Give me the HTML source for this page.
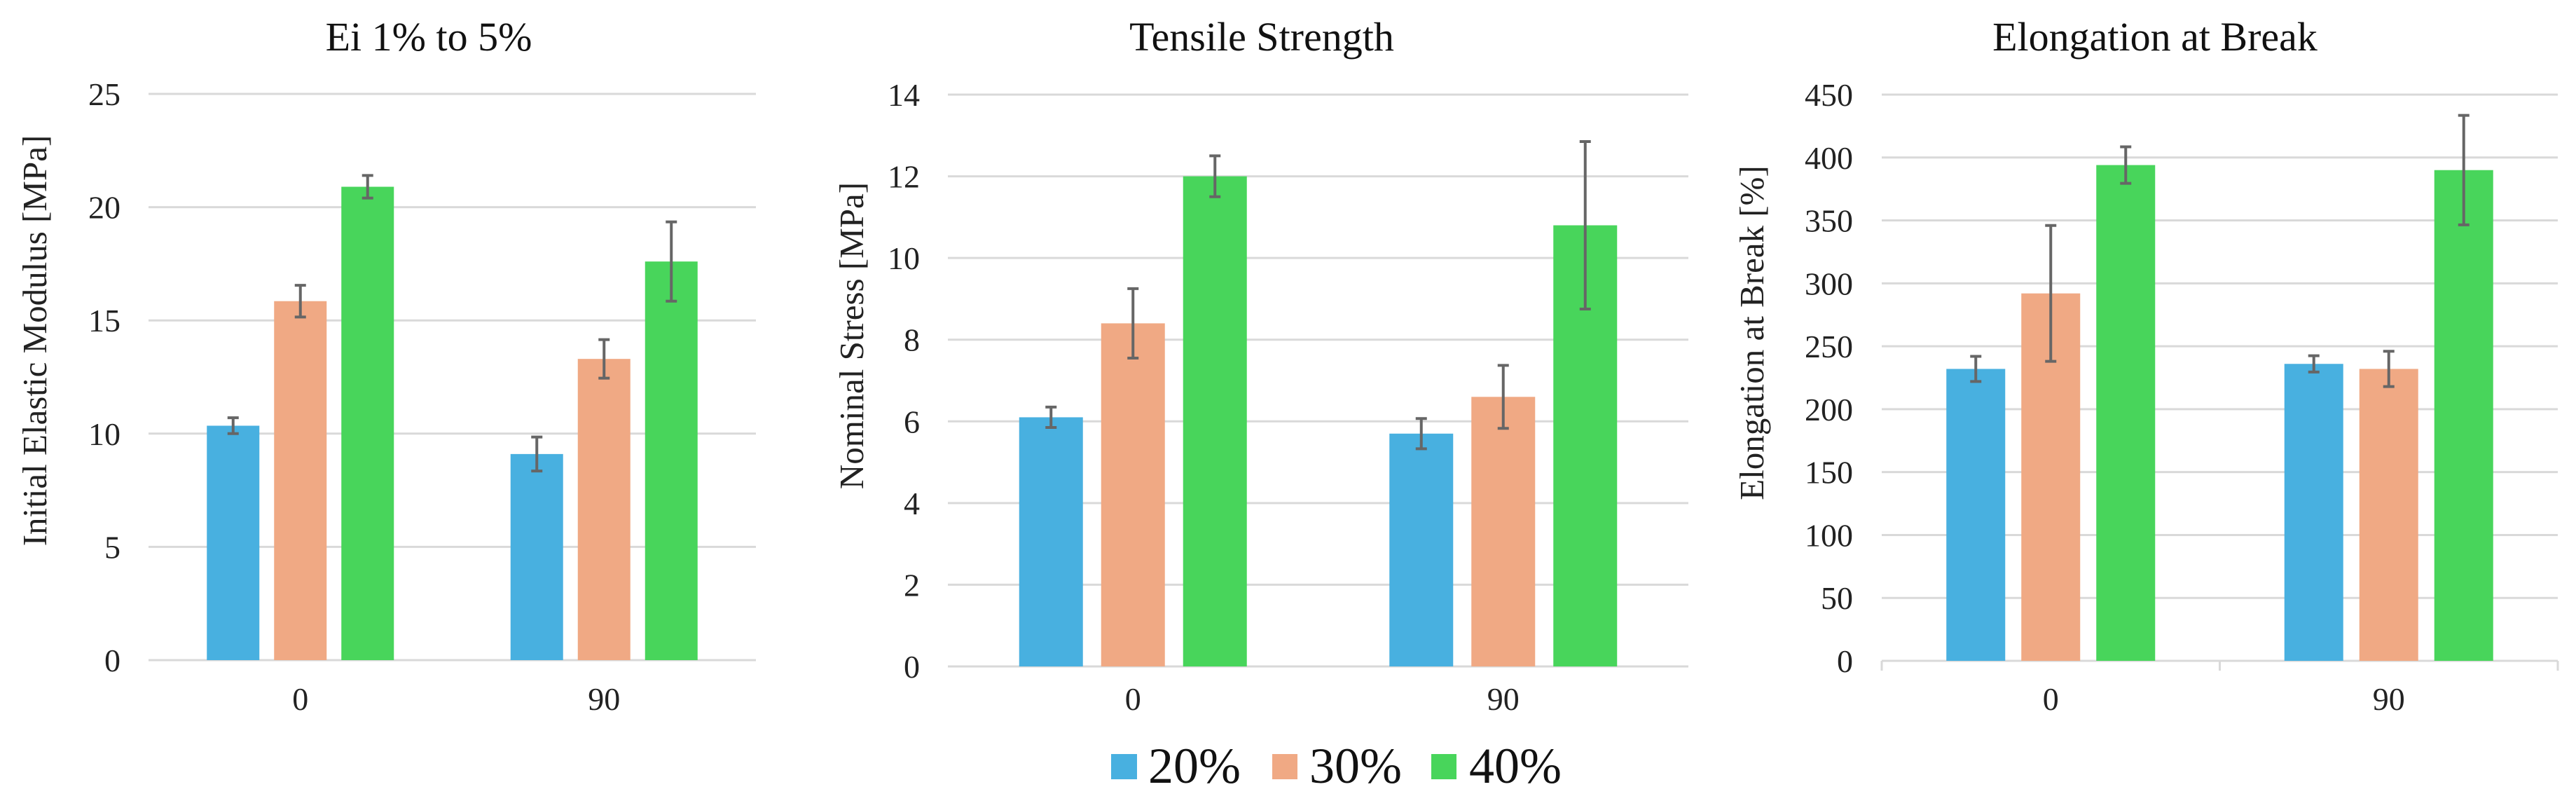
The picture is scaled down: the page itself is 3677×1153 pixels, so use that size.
<!DOCTYPE html>
<html><head><meta charset="utf-8"><style>
html,body{margin:0;padding:0;background:#fff;}
svg{display:block;font-family:"Liberation Serif",serif;}
</style></head><body>
<svg id="svg" width="3677" height="1153" viewBox="0 0 3677 1153" xmlns="http://www.w3.org/2000/svg">
<g id="legend">
  <rect x="1586" y="1076" width="37" height="36" fill="#48B0E0"/>
  <text x="1639" y="1117" font-size="72" fill="#111">20%</text>
  <rect x="1816" y="1076" width="36" height="36" fill="#F0A984"/>
  <text x="1869" y="1117" font-size="72" fill="#111">30%</text>
  <rect x="2043" y="1076" width="36" height="36" fill="#48D55B"/>
  <text x="2097" y="1117" font-size="72" fill="#111">40%</text>
</g>
</svg>
<script>
const categories = ["0", "90"];
const seriesNames = ["20%", "30%", "40%"];
const colors = ["#48B0E0", "#F0A984", "#48D55B"];

const c1Values20 = [10.35, 9.1];
const c1Values30 = [15.85, 13.3];
const c1Values40 = [20.9, 17.6];
const c1Err20 = [0.35, 0.75];
const c1Err30 = [0.7, 0.85];
const c1Err40 = [0.5, 1.75];
const c1Ticks = [0, 5, 10, 15, 20, 25];

const c2Values20 = [6.1, 5.7];
const c2Values30 = [8.4, 6.6];
const c2Values40 = [12.0, 10.8];
const c2Err20 = [0.25, 0.37];
const c2Err30 = [0.85, 0.77];
const c2Err40 = [0.5, 2.05];
const c2Ticks = [0, 2, 4, 6, 8, 10, 12, 14];

const c3Values20 = [232, 236];
const c3Values30 = [292, 232];
const c3Values40 = [394, 390];
const c3Err20 = [10, 6.5];
const c3Err30 = [54, 14];
const c3Err40 = [14.5, 43.5];
const c3Ticks = [0, 50, 100, 150, 200, 250, 300, 350, 400, 450];

const NS = "http://www.w3.org/2000/svg";
const svg = document.getElementById("svg");
function mk(tag, attrs, parent) {
  const e = document.createElementNS(NS, tag);
  for (const k in attrs) e.setAttribute(k, attrs[k]);
  parent.appendChild(e);
  return e;
}

function drawChart(cfg) {
  const g = mk("g", {}, svg);
  
  
  const max = cfg.ticks[cfg.ticks.length - 1];
  const y = v => cfg.y0 - (v / max) * (cfg.y0 - cfg.yTop);
  const catW = (cfg.x1 - cfg.x0) / categories.length;
  const xc = i => cfg.x0 + catW * (i + 0.5);

  const title = mk("text", {x: cfg.titleX, y: 72, "font-size": 58, "text-anchor": "middle", fill: "#111"}, g);
  title.textContent = cfg.title;
  
  

  cfg.ticks.forEach(t => {
    const ln = mk("line", {x1: cfg.x0, x2: cfg.x1, y1: y(t), y2: y(t), stroke: "#d9d9d9", "stroke-width": 3}, g);
    
    
    const tx = mk("text", {x: cfg.tickX, y: y(t) + 16, "font-size": 46, "text-anchor": "end", fill: "#222"}, g);
    tx.textContent = t;
    
    
  });

  if (cfg.xTicks) {
    for (let i = 0; i <= categories.length; i++) {
      const tk = mk("line", {x1: cfg.x0 + catW * i, x2: cfg.x0 + catW * i, y1: y(0), y2: y(0) + 14, stroke: "#d9d9d9", "stroke-width": 3}, g);
      
      
    }
  }

  const yt = mk("text", {transform: `translate(${cfg.yTitleX},${cfg.yTitleY}) rotate(-90)`, "font-size": 49, "text-anchor": "middle", fill: "#222"}, g);
  yt.textContent = cfg.yTitle;
  
  

  const vals = [cfg.v20, cfg.v30, cfg.v40];
  const errs = [cfg.e20, cfg.e30, cfg.e40];
  const groupW = 3 * cfg.barW + 2 * cfg.gap;
  categories.forEach((c, i) => {
    const lab = mk("text", {x: xc(i), y: 1013, "font-size": 46, "text-anchor": "middle", fill: "#222"}, g);
    lab.textContent = c;
    
    
    for (let s = 0; s < 3; s++) {
      const bx = xc(i) - groupW / 2 + s * (cfg.barW + cfg.gap);
      const v = vals[s][i];
      const r = mk("rect", {x: bx, y: y(v), width: cfg.barW, height: y(0) - y(v), fill: colors[s]}, g);
      
      
      const cx = bx + cfg.barW / 2;
      const e = errs[s][i];
      const eg = mk("g", {stroke: "#666", "stroke-width": 4}, g);
      
      
      mk("line", {x1: cx, x2: cx, y1: y(v + e), y2: y(v - e)}, eg);
      mk("line", {x1: cx - 8, x2: cx + 8, y1: y(v + e), y2: y(v + e)}, eg);
      mk("line", {x1: cx - 8, x2: cx + 8, y1: y(v - e), y2: y(v - e)}, eg);
    }
  });
}

drawChart({name: "chart-elastic-modulus", title: "Ei 1% to 5%", titleX: 612, yTitle: "Initial Elastic Modulus  [MPa]",
  x0: 212, x1: 1079, y0: 942, yTop: 134, tickX: 172, yTitleX: 66, yTitleY: 486, barW: 75, gap: 21,
  ticks: c1Ticks, v20: c1Values20, v30: c1Values30, v40: c1Values40, e20: c1Err20, e30: c1Err30, e40: c1Err40});
drawChart({name: "chart-tensile-strength", title: "Tensile Strength", titleX: 1801, yTitle: "Nominal Stress [MPa]",
  x0: 1353, x1: 2410, y0: 951, yTop: 135, tickX: 1313, yTitleX: 1232, yTitleY: 479, barW: 91, gap: 26,
  ticks: c2Ticks, v20: c2Values20, v30: c2Values30, v40: c2Values40, e20: c2Err20, e30: c2Err30, e40: c2Err40});
drawChart({name: "chart-elongation", title: "Elongation at Break", titleX: 3076, yTitle: "Elongation at Break [%]",
  x0: 2686, x1: 3651, y0: 943, yTop: 135, tickX: 2645, yTitleX: 2517, yTitleY: 475, barW: 84, gap: 23, xTicks: true,
  ticks: c3Ticks, v20: c3Values20, v30: c3Values30, v40: c3Values40, e20: c3Err20, e30: c3Err30, e40: c3Err40});
</script>
</body></html>
